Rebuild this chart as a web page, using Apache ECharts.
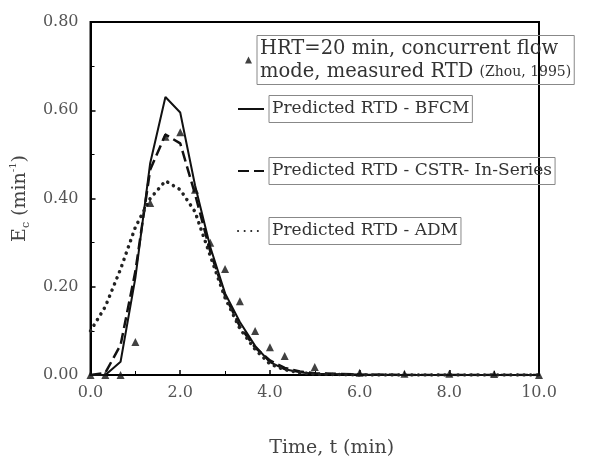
<!DOCTYPE html>
<html>
<head>
<meta charset="utf-8">
<script src="https://cdn.jsdelivr.net/npm/echarts@6/dist/echarts.min.js"></script>
<style>
  html, body { margin: 0; padding: 0; background: #fff; }
  #rtd-chart { width: 602px; height: 463px; }
</style>
</head>
<body>
<div id="rtd-chart"></div>
<script>
// measured RTD (Zhou, 1995), HRT = 20 min
var measuredTime = [0, 0.33, 0.67, 1.0, 1.33, 1.67, 2.0, 2.33, 2.67, 3.0, 3.33, 3.67, 4.0, 4.33, 5.0, 6.0, 7.0, 8.0, 9.0, 10.0];
var measuredE = [0, 0, 0, 0.075, 0.39, 0.54, 0.55, 0.42, 0.30, 0.24, 0.167, 0.10, 0.063, 0.043, 0.018, 0.005, 0.003, 0.003, 0.002, 0];

// predicted curves
var modelTime = [0, 0.33, 0.67, 1.0, 1.33, 1.67, 2.0, 2.33, 2.67, 3.0, 3.33, 3.67, 4.0, 4.33, 4.67, 5.0, 6.0, 7.0, 8.0, 9.0, 10.0];
var bfcmE = [0, 0, 0.03, 0.22, 0.48, 0.63, 0.595, 0.43, 0.29, 0.185, 0.12, 0.066, 0.029, 0.013, 0.006, 0.003, 0.001, 0, 0, 0, 0];
var cstrE = [0, 0.005, 0.068, 0.235, 0.465, 0.545, 0.525, 0.41, 0.28, 0.18, 0.11, 0.062, 0.033, 0.016, 0.008, 0.004, 0.001, 0, 0, 0, 0];
var admE = [0.10, 0.155, 0.24, 0.335, 0.40, 0.44, 0.42, 0.37, 0.27, 0.175, 0.105, 0.058, 0.025, 0.012, 0.005, 0.002, 0, 0, 0, 0, 0];

var seriesNames = ['Measured', 'Predicted RTD - BFCM', 'Predicted RTD - CSTR- In-Series', 'Predicted RTD - ADM'];

function pairs(xs, ys) {
    return xs.map(function (x, i) { return [x, ys[i]]; });
}

var chart = echarts.init(document.getElementById('rtd-chart'));
var serif = 'DejaVu Serif';

function boxLegend(name, left, top, icon, w, h, extra) {
    var lg = {
        data: [name],
        left: left,
        top: top,
        icon: icon,
        itemWidth: w,
        itemHeight: h,
        selectedMode: false,
        padding: 0,
        itemStyle: { opacity: 0 },
        textStyle: {
            fontFamily: serif,
            fontSize: 17,
            color: '#333',
            lineHeight: 23,
            borderColor: '#888',
            borderWidth: 1,
            padding: [3, 3, 1, 3]
        }
    };
    return Object.assign(lg, extra || {});
}

var option = {
    animation: false,
    grid: {
        left: 88, right: 63, top: 22, bottom: 87,
        show: true, borderColor: '#000', borderWidth: 2
    },
    xAxis: {
        type: 'value',
        min: 0, max: 10, interval: 2,
        name: 'Time, t (min)',
        nameLocation: 'middle',
        nameGap: 64,
        nameTextStyle: { fontFamily: serif, fontSize: 19, color: '#444', padding: [0, 0, 0, 34] },
        axisLine: { lineStyle: { color: '#000', width: 2 } },
        axisTick: { inside: true, length: 5, lineStyle: { color: '#000', width: 1.5 } },
        minorTick: { show: true, splitNumber: 2, length: 4, lineStyle: { color: '#000' } },
        splitLine: { show: false },
        axisLabel: {
            margin: 10, fontFamily: serif, fontSize: 16, color: '#555',
            formatter: function (v) { return v.toFixed(1); }
        }
    },
    yAxis: {
        type: 'value',
        min: 0, max: 0.8, interval: 0.2,
        name: '{e|E}{s|c} (min{p|-1})',
        nameLocation: 'middle',
        nameGap: 52,
        nameTextStyle: {
            fontFamily: serif, fontSize: 19, color: '#444',
            rich: {
                e: { fontFamily: serif, fontSize: 19, color: '#444', lineHeight: 24 },
                s: { fontFamily: serif, fontSize: 11, color: '#444', verticalAlign: 'bottom', lineHeight: 24 },
                p: { fontFamily: serif, fontSize: 10, color: '#444', verticalAlign: 'top', lineHeight: 24 }
            }
        },
        axisLine: { lineStyle: { color: '#000', width: 2 } },
        axisTick: { inside: true, length: 5, lineStyle: { color: '#000', width: 1.5 } },
        minorTick: { show: true, splitNumber: 2, length: 4, lineStyle: { color: '#000' } },
        splitLine: { show: false },
        axisLabel: {
            margin: 12, fontFamily: serif, fontSize: 16, color: '#555',
            formatter: function (v) { return v.toFixed(2); }
        }
    },
    legend: [
        boxLegend(seriesNames[0], 245, 35, 'triangle', 7, 7, {
            itemStyle: { color: '#111' },
            formatter: function () {
                return '{a|HRT=20 min, concurrent flow}\n{a|mode, measured RTD }{b|(Zhou, 1995)}';
            },
            textStyle: {
                fontFamily: serif, fontSize: 19, color: '#333', lineHeight: 23,
                borderColor: '#888', borderWidth: 1, padding: [2, 3, 1, 3],
                rich: {
                    a: { fontFamily: serif, fontSize: 19.5, color: '#333', lineHeight: 23 },
                    b: { fontFamily: serif, fontSize: 14, color: '#333', lineHeight: 23 }
                }
            }
        }),
        boxLegend(seriesNames[1], 237, 95, null, 26, 14),
        boxLegend(seriesNames[2], 237, 157, null, 26, 14),
        boxLegend(seriesNames[3], 237, 217, null, 26, 14)
    ],
    series: [
        {
            name: seriesNames[0],
            type: 'scatter',
            symbol: 'triangle',
            symbolSize: 8,
            itemStyle: { color: '#111' },
            data: pairs(measuredTime, measuredE),
            z: 5
        },
        {
            name: seriesNames[1],
            type: 'line',
            symbol: 'none',
            lineStyle: { color: '#111', width: 2 },
            itemStyle: { color: '#111' },
            data: pairs(modelTime, bfcmE)
        },
        {
            name: seriesNames[2],
            type: 'line',
            symbol: 'none',
            lineStyle: { color: '#111', width: 2.5, type: [11, 5] },
            itemStyle: { color: '#111' },
            data: pairs(modelTime, cstrE)
        },
        {
            name: seriesNames[3],
            type: 'line',
            symbol: 'none',
            lineStyle: { color: '#222', width: 3.5, type: [0.1, 6.5], cap: 'round' },
            itemStyle: { color: '#222' },
            data: pairs(modelTime, admE)
        }
    ]
};

chart.setOption(option);
</script>
</body>
</html>
